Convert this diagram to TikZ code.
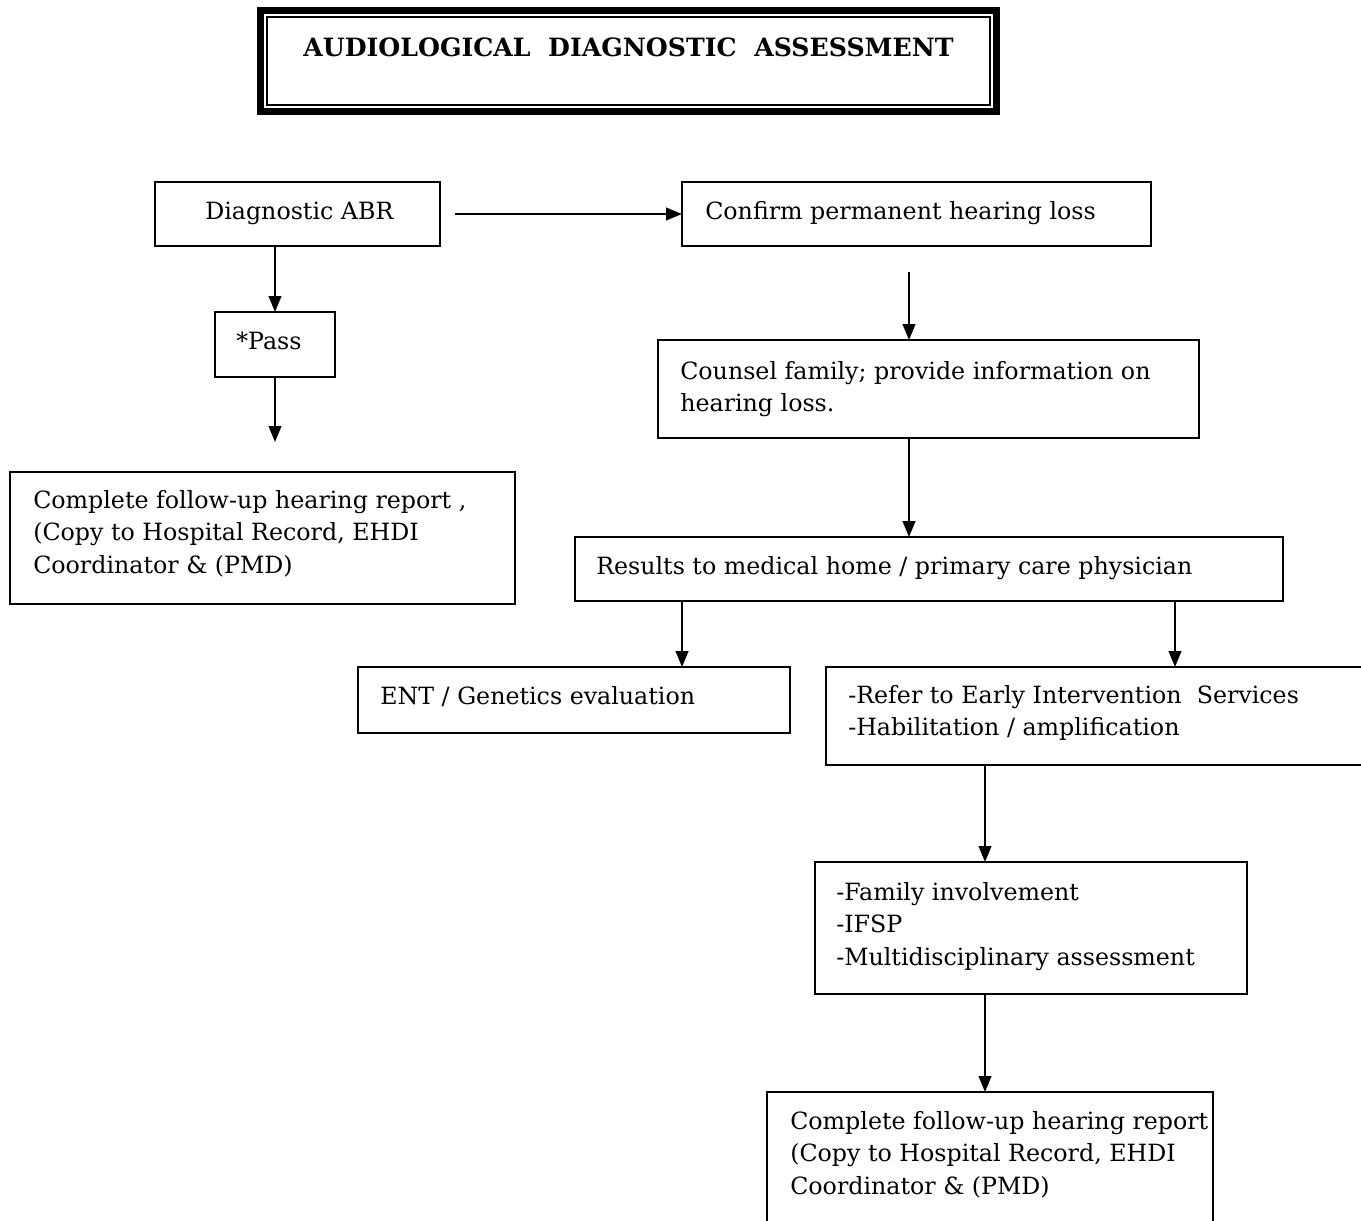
\documentclass[tikz,border=0pt]{standalone}
\usepackage{fontspec}
\setmainfont{DejaVu Serif}
\usetikzlibrary{arrows.meta}
\begin{document}
\begin{tikzpicture}[x=0.75pt,y=-0.75pt,
  box/.style={draw, line width=1.5pt, inner sep=0pt, outer sep=0pt, anchor=north west},
  bx/.style n args={4}{box, minimum width=#3*0.75pt, minimum height=#4*0.75pt, at={(#1,#2)}},
  txt/.style={anchor=base west, inner sep=0pt, font=\fontsize{17.8}{24.6}\selectfont},
  arr/.style={line width=1.5pt, -{Triangle[length=12pt,width=9.5pt]}},
]
\useasboundingbox (0,0) rectangle (1361,1221);
\clip (0,0) rectangle (1361,1221);

% title
\node[draw, line width=5.25pt, inner sep=0pt, outer sep=0pt, anchor=north west,
      minimum width=736*0.75pt, minimum height=101*0.75pt] (tframe) at (260.5,10.5) {};
\node[bx={267}{17}{723}{88}] (tinner) {};
\node[anchor=base west, inner sep=0pt, font=\fontsize{18.9}{22}\selectfont\bfseries] (title) at (303,56)
  {AUDIOLOGICAL\ \ DIAGNOSTIC\ \ ASSESSMENT};

% boxes
\node[bx={155}{182}{285}{64}] (diag) {};
\node[bx={682}{182}{469}{64}] (confirm) {};
\node[bx={215}{312}{120}{65}] (pass) {};
\node[bx={10}{472}{505}{132}] (lcomp) {};
\node[bx={658}{340}{541}{98}] (counsel) {};
\node[bx={575}{537}{708}{64}] (results) {};
\node[bx={358}{667}{432}{66}] (ent) {};
\node[bx={826}{667}{600}{98}] (refer) {};
\node[bx={815}{862}{432}{132}] (family) {};
\node[bx={767}{1092}{446}{200}] (bcomp) {};

% texts
\node[txt] (tdiag) at (205,219) {Diagnostic ABR};
\node[txt] (tconfirm) at (705,219) {Confirm permanent hearing loss};
\node[txt] (tpass) at (236,349) {*Pass};
\node[txt] (tlcomp) at (33,508) {\begin{tabular}[t]{@{}l@{}}Complete follow-up hearing report ,\\(Copy to Hospital Record, EHDI\\Coordinator \& (PMD)\end{tabular}};
\node[txt] (tcounsel) at (680,379) {\begin{tabular}[t]{@{}l@{}}Counsel family; provide information on\\hearing loss.\end{tabular}};
\node[txt] (tresults) at (596,574) {Results to medical home / primary care physician};
\node[txt] (tent) at (380,704) {ENT / Genetics evaluation};
\node[txt] (trefer) at (848,703) {\begin{tabular}[t]{@{}l@{}}-Refer to Early Intervention\ \ Services\\-Habilitation / amplification\end{tabular}};
\node[txt] (tfamily) at (836,900) {\begin{tabular}[t]{@{}l@{}}-Family involvement\\-IFSP\\-Multidisciplinary assessment\end{tabular}};
\node[txt] (tbcomp) at (790,1129) {\begin{tabular}[t]{@{}l@{}}Complete follow-up hearing report\\(Copy to Hospital Record, EHDI\\Coordinator \& (PMD)\end{tabular}};

% connectors
\coordinate (passend) at (275,442);
\coordinate (cstart) at (909,272);
\coordinate (xa) at (682,0);
\coordinate (xb) at (1175,0);
\coordinate (xc) at (985,0);
\draw[arr] ([xshift=11.25pt]diag.east) -- (confirm.west);
\draw[arr] (diag.south -| pass.north) -- (pass.north);
\draw[arr] (pass.south) -- (passend);
\draw[arr] (cstart) -- (cstart |- counsel.north);
\draw[arr] (counsel.south -| cstart) -- (results.north -| cstart);
\draw[arr] (results.south -| xa) -- (ent.north -| xa);
\draw[arr] (results.south -| xb) -- (refer.north -| xb);
\draw[arr] (refer.south -| xc) -- (family.north -| xc);
\draw[arr] (family.south -| xc) -- (bcomp.north -| xc);
\end{tikzpicture}
\end{document}
